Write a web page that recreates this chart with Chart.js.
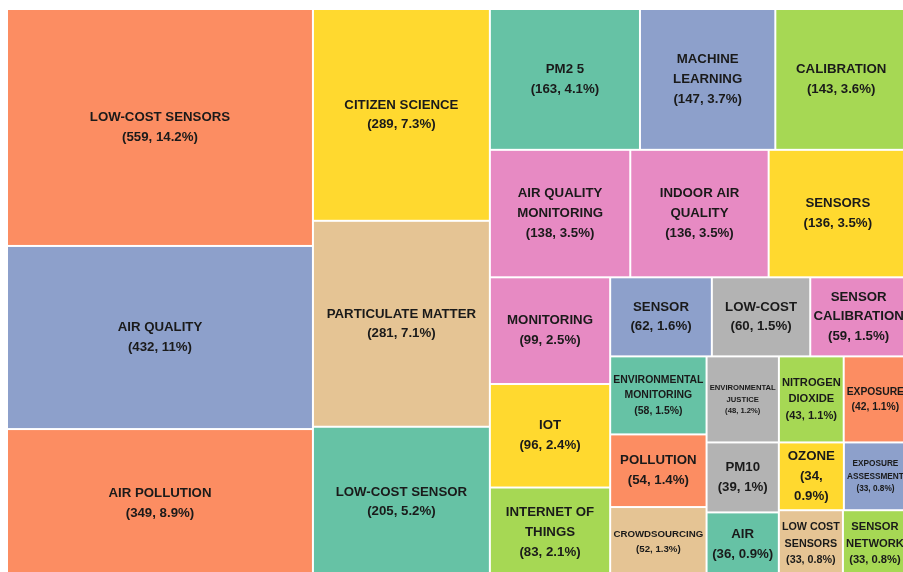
<!DOCTYPE html>
<html>
<head>
<meta charset="utf-8">
<script src="https://cdn.jsdelivr.net/npm/chart.js@4.4.1/dist/chart.umd.min.js"></script>
<style>
  html, body { margin: 0; padding: 0; overflow: hidden; background: #ffffff; width: 903px; height: 572px; }
  canvas { display: block; }
</style>
</head>
<body>
<canvas id="chart" width="908" height="578"></canvas>
<script>
// ---------------- DATA ----------------
const keywords = [
  "LOW-COST SENSORS", "AIR QUALITY", "AIR POLLUTION", "CITIZEN SCIENCE", "PARTICULATE MATTER",
  "LOW-COST SENSOR", "PM2 5", "MACHINE LEARNING", "CALIBRATION", "AIR QUALITY MONITORING",
  "INDOOR AIR QUALITY", "SENSORS", "MONITORING", "IOT", "INTERNET OF THINGS",
  "SENSOR", "LOW-COST", "SENSOR CALIBRATION", "ENVIRONMENTAL MONITORING", "POLLUTION",
  "CROWDSOURCING", "ENVIRONMENTAL JUSTICE", "NITROGEN DIOXIDE", "EXPOSURE", "PM10",
  "AIR", "OZONE", "EXPOSURE ASSESSMENT", "LOW COST SENSORS", "SENSOR NETWORK"
];
const occurrences = [
  559, 432, 349, 289, 281,
  205, 163, 147, 143, 138,
  136, 136, 99, 96, 83,
  62, 60, 59, 58, 54,
  52, 48, 43, 42, 39,
  36, 34, 33, 33, 33
];

// ---------------- STYLE ----------------
const palette = {
  orange: '#FC8D62', blue: '#8DA0CB', teal: '#66C2A5', yellow: '#FFD92F',
  tan: '#E5C494', pink: '#E78AC3', green: '#A6D854', gray: '#B3B3B3'
};
const cellColors = [
  palette.orange, palette.blue, palette.orange, palette.yellow, palette.tan,
  palette.teal, palette.teal, palette.blue, palette.green, palette.pink,
  palette.pink, palette.yellow, palette.pink, palette.yellow, palette.green,
  palette.blue, palette.gray, palette.pink, palette.teal, palette.orange,
  palette.tan, palette.gray, palette.green, palette.orange, palette.gray,
  palette.teal, palette.yellow, palette.blue, palette.tan, palette.green
];
const LABEL_FONT = "'Liberation Sans', Arial, Helvetica, sans-serif";
const LABEL_MAX = 13.25, LABEL_MIN = 4, LINE_H = 1.5, PAD_X = 3, PAD_Y = 3;

const total = occurrences.reduce((a, b) => a + b, 0);
function pctText(v) { return String(Math.round(v / total * 1000) / 10); }

// ------------- pivot-by-size treemap layout (ordered treemap) -------------
function sumV(list) { return list.reduce((a, it) => a + it.v, 0); }
function pivotBySize(items, r, out) {
  if (!items.length) return;
  if (items.length === 1) { out[items[0].idx] = r; return; }
  const tot = sumV(items);
  let p = 0;
  for (let i = 1; i < items.length; i++) if (items[i].v > items[p].v) p = i;
  const L1 = items.slice(0, p), piv = items[p], rest = items.slice(p + 1);
  const wide = r.w >= r.h;
  const s1 = sumV(L1);
  let r1, rr;
  if (wide) {
    const w1 = r.w * s1 / tot;
    r1 = { x: r.x, y: r.y, w: w1, h: r.h };
    rr = { x: r.x + w1, y: r.y, w: r.w - w1, h: r.h };
  } else {
    const h1 = r.h * s1 / tot;
    r1 = { x: r.x, y: r.y, w: r.w, h: h1 };
    rr = { x: r.x, y: r.y + h1, w: r.w, h: r.h - h1 };
  }
  let bestK = 0, bestR = Infinity, acc = 0;
  for (let k = 0; k <= rest.length; k++) {
    if (k > 0) acc += rest[k - 1].v;
    const sp = piv.v + acc;
    let a, b;
    if (wide) { a = r.w * sp / tot; b = r.h * piv.v / sp; }
    else { a = r.h * sp / tot; b = r.w * piv.v / sp; }
    const ratio = Math.max(a / b, b / a);
    if (ratio < bestR) { bestR = ratio; bestK = k; }
  }
  const L2 = rest.slice(0, bestK), L3 = rest.slice(bestK);
  const sp = piv.v + sumV(L2);
  let rp, r2, r3;
  if (wide) {
    const sw = r.w * sp / tot, ph = r.h * piv.v / sp;
    rp = { x: rr.x, y: rr.y, w: sw, h: ph };
    r2 = { x: rr.x, y: rr.y + ph, w: sw, h: rr.h - ph };
    r3 = { x: rr.x + sw, y: rr.y, w: rr.w - sw, h: rr.h };
  } else {
    const sh = r.h * sp / tot, pw = r.w * piv.v / sp;
    rp = { x: rr.x, y: rr.y, w: pw, h: sh };
    r2 = { x: rr.x + pw, y: rr.y, w: rr.w - pw, h: sh };
    r3 = { x: rr.x, y: rr.y + sh, w: rr.w, h: rr.h - sh };
  }
  out[piv.idx] = rp;
  pivotBySize(L1, r1, out);
  pivotBySize(L2, r2, out);
  pivotBySize(L3, r3, out);
}

// ------------- label fitting (wrap, then shrink) -------------
function fitLabel(ctx, paragraphs, boxW, boxH) {
  const aw = boxW - 2 * PAD_X, ah = boxH - 2 * PAD_Y;
  let last = null;
  for (let s = LABEL_MAX; s >= LABEL_MIN; s -= 0.05) {
    ctx.font = 'bold ' + s.toFixed(2) + 'px ' + LABEL_FONT;
    const lines = [];
    let ok = true;
    for (const para of paragraphs) {
      const words = para.split(' ');
      let cur = '';
      for (const wd of words) {
        if (ctx.measureText(wd).width > aw) { ok = false; break; }
        const t = cur ? cur + ' ' + wd : wd;
        if (ctx.measureText(t).width <= aw) cur = t;
        else { lines.push(cur); cur = wd; }
      }
      if (!ok) break;
      lines.push(cur);
    }
    last = { s, lines };
    if (ok && lines.length * LINE_H * s <= ah) return { s, lines };
  }
  return last;
}

const treemapPlugin = {
  id: 'treemapCells',
  afterDatasetsDraw(chart) {
    const { ctx, chartArea, scales } = chart;
    const xs = scales.x, ys = scales.y;
    const A = chartArea.width / chartArea.height;
    const items = occurrences.map((v, i) => ({ v, idx: i }));
    const rects = [];
    pivotBySize(items, { x: 0, y: 0, w: A, h: 1 }, rects);
    ctx.save();
    const boxes = rects.map((r, i) => {
      const x0 = xs.getPixelForValue(r.x / A), x1 = xs.getPixelForValue((r.x + r.w) / A);
      const y0 = ys.getPixelForValue(r.y), y1 = ys.getPixelForValue(r.y + r.h);
      ctx.fillStyle = cellColors[i];
      ctx.fillRect(x0 + 1, y0 + 1, x1 - x0 - 2, y1 - y0 - 2);
      return { x0, x1, y0, y1 };
    });
    ctx.fillStyle = '#1a1a1a';
    ctx.textAlign = 'center';
    ctx.textBaseline = 'middle';
    boxes.forEach((b, i) => {
      const paragraphs = [keywords[i], '(' + occurrences[i] + ', ' + pctText(occurrences[i]) + '%)'];
      const fit = fitLabel(ctx, paragraphs, b.x1 - b.x0, b.y1 - b.y0);
      ctx.font = 'bold ' + fit.s.toFixed(2) + 'px ' + LABEL_FONT;
      const cx = (b.x0 + b.x1) / 2, cy = (b.y0 + b.y1) / 2;
      const n = fit.lines.length;
      fit.lines.forEach((ln, k) => {
        ctx.fillText(ln, cx, cy + (k - (n - 1) / 2) * LINE_H * fit.s);
      });
    });
    ctx.restore();
  }
};

new Chart(document.getElementById('chart'), {
  type: 'scatter',
  data: { datasets: [{ label: 'Keyword occurrences', data: [], pointRadius: 0 }] },
  options: {
    responsive: false,
    animation: false,
    layout: { padding: { left: 7, top: 9, right: 1, bottom: 1 } },
    scales: {
      x: { type: 'linear', min: 0, max: 1, display: false },
      y: { type: 'linear', min: 0, max: 1, reverse: true, display: false }
    },
    plugins: { legend: { display: false }, tooltip: { enabled: false } }
  },
  plugins: [treemapPlugin]
});
</script>
</body>
</html>
